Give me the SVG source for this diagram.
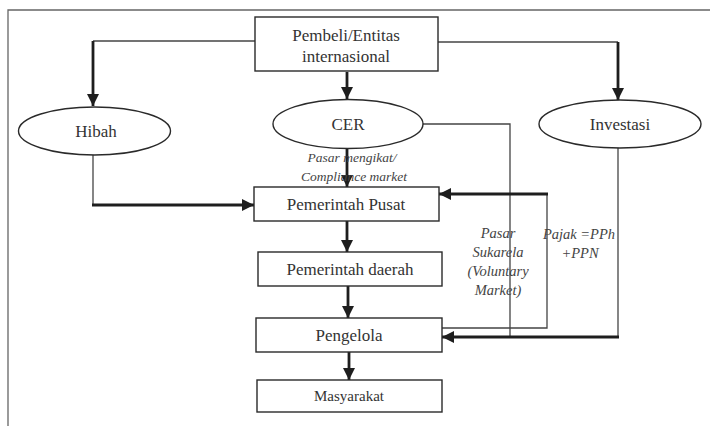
<svg xmlns="http://www.w3.org/2000/svg" width="710" height="426" viewBox="0 0 710 426">
  <style>
    .box { fill: #fff; stroke: #2a2a2a; stroke-width: 1.4; }
    .lbl { font-family: "Liberation Serif", "Times New Roman", serif; font-size: 17px; fill: #333; text-anchor: middle; }
    .it { font-family: "Liberation Serif", "Times New Roman", serif; font-style: italic; font-size: 13.5px; fill: #444; text-anchor: middle; }
    .side { font-size: 14.5px; }
    .thin { fill: none; stroke: #444; stroke-width: 1.3; }
    .thick { fill: none; stroke: #1e1e1e; stroke-width: 2.8; }
  </style>
  <defs>
    <marker id="arrow" markerUnits="userSpaceOnUse" markerWidth="14" markerHeight="12" refX="12" refY="6" orient="auto">
      <path d="M0,0 L12,6 L0,12 Z" fill="#1e1e1e"/>
    </marker>
  </defs>

  <rect width="710" height="426" fill="#fff"/>
  <!-- frame -->
  <path d="M8,426 V10 H710" fill="none" stroke="#666" stroke-width="1.3"/>

  <g id="connectors">
    <!-- buyer to Hibah -->
    <path class="thin" d="M255,41 H93"/>
    <path class="thick" d="M93,41 V106" marker-end="url(#arrow)"/>
    <!-- buyer to CER -->
    <path class="thick" d="M347,72 V99" marker-end="url(#arrow)"/>
    <!-- buyer to Investasi -->
    <path class="thin" d="M438,42 H618"/>
    <path class="thick" d="M618,42 V100" marker-end="url(#arrow)"/>
    <!-- Hibah to Pemerintah Pusat -->
    <path class="thin" d="M93,155 V205"/>
    <path class="thick" d="M92,205 H254" marker-end="url(#arrow)"/>
    <!-- CER to Pemerintah Pusat -->
    <path class="thick" d="M347,148 V187" marker-end="url(#arrow)"/>
    <!-- CER voluntary market line -->
    <path class="thin" d="M423,124 H510 V337"/>
    <!-- Investasi to Pengelola -->
    <path class="thin" d="M618,148 V337"/>
    <path class="thick" d="M619,337 H442" marker-end="url(#arrow)"/>
    <!-- tax loop Pengelola to Pemerintah Pusat -->
    <path class="thin" d="M442,328 H547 V194"/>
    <path class="thick" d="M548,194 H439" marker-end="url(#arrow)"/>
    <!-- vertical chain -->
    <path class="thick" d="M347,221 V252" marker-end="url(#arrow)"/>
    <path class="thick" d="M348,286 V318" marker-end="url(#arrow)"/>
    <path class="thick" d="M349,352 V380" marker-end="url(#arrow)"/>
  </g>

  <g id="pembeli">
    <rect class="box" x="255" y="17" width="183" height="54"/>
    <text class="lbl" x="346" y="41">Pembeli/Entitas</text>
    <text class="lbl" x="346" y="62">internasional</text>
  </g>
  <g id="hibah">
    <ellipse class="box" cx="94.5" cy="131" rx="76" ry="24"/>
    <text class="lbl" x="96" y="137">Hibah</text>
  </g>
  <g id="cer">
    <ellipse class="box" cx="348" cy="124" rx="75" ry="24.5"/>
    <text class="lbl" x="348" y="130">CER</text>
  </g>
  <g id="investasi">
    <ellipse class="box" cx="620" cy="124" rx="81" ry="24"/>
    <text class="lbl" x="620" y="130">Investasi</text>
  </g>
  <g id="pusat">
    <rect class="box" x="254" y="187" width="185" height="34"/>
    <text class="lbl" x="346" y="210">Pemerintah Pusat</text>
  </g>
  <g id="daerah">
    <rect class="box" x="258" y="252" width="184" height="34"/>
    <text class="lbl" x="350" y="275">Pemerintah daerah</text>
  </g>
  <g id="pengelola">
    <rect class="box" x="256" y="318" width="186" height="34"/>
    <text class="lbl" x="349" y="341">Pengelola</text>
  </g>
  <g id="masyarakat">
    <rect class="box" x="257" y="380" width="185" height="32"/>
    <text class="lbl" x="349" y="401" style="font-size:15px">Masyarakat</text>
  </g>

  <g id="labels">
    <text class="it" x="352" y="162">Pasar mengikat/</text>
    <text class="it" x="354" y="181">Compliance market</text>
    <text class="it side" x="498" y="238">Pasar</text>
    <text class="it side" x="498" y="257">Sukarela</text>
    <text class="it side" x="498" y="276">(Voluntary</text>
    <text class="it side" x="498" y="295">Market)</text>
    <text class="it side" x="579" y="239">Pajak =PPh</text>
    <text class="it side" x="580" y="258">+PPN</text>
  </g>
</svg>
